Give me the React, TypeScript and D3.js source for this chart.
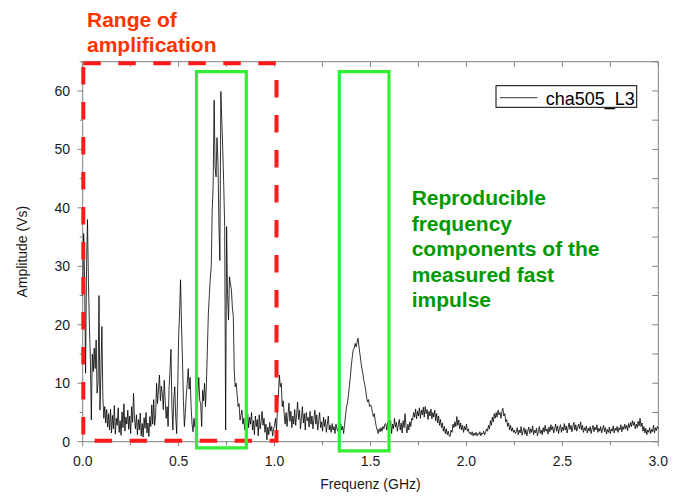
import React from "react";
import * as d3 from "d3";

// ---- data ----
const freqStep = 0.005; // GHz between samples, starting at 0
const amplitude: number[] = [
  25, 35.6, 27.6, 11.7, 30, 38, 27, 20, 14, 3.7,
  15, 12, 16, 12.5, 17.4, 8.3, 10, 25, 5.4, 12,
  19.7, 7.7, 4, 6, 3.2, 5.5, 2.5, 4.8, 2, 5.6,
  1.5, 4.5, 2.2, 6.2, 1.3, 4, 2.8, 5.8, 1.6, 3.6,
  1.1, 5.1, 2.4, 6.5, 1.8, 4.2, 3, 5.4, 2.1, 4.4,
  1.4, 6, 3.3, 8.3, 4, 2.2, 4.6, 1.2, 3.8, 2,
  4.9, 1, 3.1, 0.8, 4.1, 2.3, 5, 1.5, 3.2, 0.9,
  4.3, 2.6, 6.3, 3, 7.2, 2.8, 4.5, 10, 6.5, 9,
  11.4, 7, 9.5, 8.3, 5.5, 10.5, 7, 4, 6, 2.6,
  9, 12, 15.8, 6, 2, 7.5, 9.4, 4, 1.4, 9,
  18, 22, 27.7, 20, 14, 7, 2.6, 5, 8, 10,
  12.5, 9, 11, 6, 3, 1.7, 4, 2.5, 6, 3.5,
  8, 11, 7, 6.5, 2.6, 8.8, 7, 10, 6, 10,
  16, 22, 25, 28, 30, 39.6, 44, 58.4, 47, 45.3,
  52, 48, 37, 31, 59.9, 55, 50, 44, 36.8, 2,
  36.8, 25, 20.8, 28.2, 27, 26, 23, 21.4, 12, 9.4,
  10, 8, 6, 6.5, 3.7, 4.5, 5.4, 3, 4, 2,
  3.5, 1.5, 4.8, 2.4, 4.2, 3, 5, 2, 3.6, 1.2,
  4.4, 2.6, 3.8, 1, 4.6, 2.2, 3.4, 5.2, 2.8, 4,
  1.6, 3, 0.3, 2.5, 1.2, 3.3, 1.8, 2.6, 1, 2.2,
  2.8, 4, 2, 5.5, 8, 11.4, 9.4, 10, 6, 7,
  4.8, 3, 5, 2.6, 4.5, 6.6, 3.5, 5.2, 2.4, 4.4,
  3, 5.5, 2.8, 4.6, 6.8, 3.8, 5.4, 2.2, 4, 6,
  3.2, 4.8, 2, 5, 3.6, 4.2, 2.5, 5.2, 3, 4.4,
  2.2, 3.8, 5.4, 3, 4.6, 2, 3.6, 5, 2.4, 3.4,
  1.8, 4.2, 2.6, 3.8, 1.6, 3, 4.4, 2, 2.8, 1.6,
  3.1, 2, 2.6, 1.4, 3, 2.2, 1.8, 2.9, 1.5, 3.1,
  2, 2.6, 1.4, 3, 4.5, 6, 6.6, 8, 9.5, 11.1,
  13, 14.5, 15.7, 16, 16.8, 16.2, 17, 17.7, 16.2, 15,
  13.7, 12.5, 11.7, 10.5, 9.8, 8.8, 7.5, 6.8, 7.2, 6,
  6.3, 6, 5, 4.3, 4.8, 3.5, 2.6, 2, 1.4, 2.2,
  1.7, 2.4, 1.8, 2.6, 2.2, 3, 3.1, 2, 3.4, 1.6,
  2.8, 3.6, 1.4, 3, 2.2, 4, 2.5, 3.3, 1.8, 2.9,
  3.8, 2, 3.2, 1.5, 3.6, 2.4, 4.8, 2.6, 1.5, 3,
  2, 3.4, 2.6, 4, 3.7, 5, 4.2, 5.6, 3.9, 5.2,
  4.4, 5.8, 4, 5.4, 4.6, 5.9, 4.2, 6, 4.8, 5.5,
  3.8, 5.2, 4.4, 5.6, 3.9, 5, 4.2, 5.4, 3.6, 4.8,
  3.2, 4.4, 2.8, 3.8, 2.4, 3.2, 1.8, 2.6, 1.4, 2.2,
  1.2, 1.8, 1, 0.9, 2, 1.6, 3, 2.4, 3.4, 2.6,
  4.3, 2.8, 3.7, 2.2, 3.2, 2, 2.8, 1.6, 2.6, 2,
  3, 1.8, 2.2, 1.4, 1.6, 1.2, 1.7, 1, 1.5, 1.1,
  1.6, 1, 1.4, 1.2, 1.7, 1, 1.5, 1.3, 1.8, 1.2,
  1.6, 2.2, 1.8, 2.8, 2.2, 3.6, 2.8, 4.2, 3.4, 4.8,
  4, 5, 4.2, 5.4, 4.6, 5, 4, 5.2, 5.7, 4.4,
  4.8, 3.4, 3.8, 2.6, 3.2, 2, 2.8, 1.8, 2.4, 1.6,
  2, 1.4, 1.7, 2.4, 1.2, 2, 1.5, 2.6, 1.1, 1.8,
  2.4, 1.3, 2.1, 1, 1.9, 2.5, 1.4, 2.2, 1.6, 2.7,
  1.2, 2, 1.5, 2.3, 1, 1.8, 2.6, 1.4, 2, 1.2,
  2.4, 1.6, 2.8, 1.8, 2.2, 1.3, 2.5, 1.7, 2.9, 2,
  2.6, 1.5, 2.2, 3, 1.8, 2.7, 1.4, 2.3, 2.9, 1.6,
  2.5, 1.9, 3.1, 2, 2.7, 1.5, 2.4, 3.2, 2.1, 2.8,
  1.7, 2.6, 3.3, 2, 2.9, 1.8, 2.5, 3, 2.2, 3.4,
  2, 2.8, 1.6, 2.4, 1.9, 2.7, 1.5, 2.3, 1.8, 2.6,
  1.4, 2.2, 2.8, 1.7, 2.5, 2, 2.9, 1.6, 2.3, 1.8,
  2.6, 1.5, 2.2, 2.8, 1.7, 2.4, 1.3, 2.1, 1.6, 2.5,
  1.4, 2.2, 1.8, 2.7, 1.5, 2.3, 1.9, 2.6, 1.6, 2.4,
  2, 2.9, 1.7, 2.6, 2.1, 3, 2.2, 2.8, 1.9, 3.1,
  2.4, 3.3, 2.6, 3.6, 2.8, 3.4, 2.2, 3, 2.4, 3.5,
  2.7, 4, 2.6, 3.2, 1.8, 2.6, 1.5, 2.3, 1.2, 2,
  1.6, 2.4, 1.4, 2.1, 1.7, 2.8, 1.5, 2.4, 1.9, 2.6,
  2.2,
];

const xDomain = [0, 3];
const yDomain = [0, 65];
const xMajorTicks = [0, 0.5, 1, 1.5, 2, 2.5, 3];
const xTickLabels = ["0.0", "0.5", "1.0", "1.5", "2.0", "2.5", "3.0"];
const yMajorTicks = [0, 10, 20, 30, 40, 50, 60];
const yTickLabels = ["0", "10", "20", "30", "40", "50", "60"];
const seriesName = "cha505_L3";
const xTitle = "Frequenz (GHz)";
const yTitle = "Amplitude (Vs)";

// annotation boxes in data units: [x0, x1, y0, y1]
const rangeBox = [0.0031, 1.01, 0.17, 64.73];
const greenBox1 = [0.5931, 0.8527, -1.04, 63.29];
const greenBox2 = [1.3374, 1.5964, -1.56, 63.29];
const rangeText = ["Range of", "amplification"];
const componentText = ["Reproducible", "frequency", "components of the", "measured fast", "impulse"];

const FONT = "'Liberation Sans', Arial, Helvetica, sans-serif";

export default function App() {
  const W = 683, H = 497;
  const left = 82.7, right = 658.3, top = 61.7, bottom = 441.7;
  const x = d3.scaleLinear().domain(xDomain).range([left, right]);
  const y = d3.scaleLinear().domain(yDomain).range([bottom, top]);

  const pts: [number, number][] = amplitude.map((v, i) => [i * freqStep, v]);
  const line = d3.line<[number, number]>().x((d) => x(d[0])).y((d) => y(d[1]));

  const xMinor = d3.range(0, 3.0001, 0.25);
  const yMinor = d3.range(0, 65.0001, 5);
  const axisColor = "#808080";

  const boxPath = (b: number[]) =>
    `M${x(b[0])},${y(b[3])}H${x(b[1])}V${y(b[2])}H${x(b[0])}Z`;

  return (
    <svg width={W} height={H} style={{ position: "absolute", left: 0, top: 0, background: "#fff" }} fontFamily={FONT}>
      <rect x={0} y={0} width={W} height={H} fill="#fff" />
      {/* frame */}
      <g stroke={axisColor} strokeWidth={1} fill="none">
        <line x1={left} x2={right} y1={bottom} y2={bottom} />
        <line x1={left} x2={right} y1={top} y2={top} />
        <line x1={left} x2={left} y1={top} y2={bottom} />
        <line x1={right} x2={right} y1={top} y2={bottom} />
        {xMinor.map((t) => {
          const major = Math.abs(t * 2 - Math.round(t * 2)) < 1e-6;
          return (
            <g key={"xt" + t}>
              <line x1={x(t)} x2={x(t)} y1={bottom} y2={bottom + (major ? 4.5 : 3.5)} />
              <line x1={x(t)} x2={x(t)} y1={top} y2={top + 5} />
            </g>
          );
        })}
        {yMinor.map((t) => {
          const major = t % 10 === 0;
          return (
            <g key={"yt" + t}>
              <line x1={left} x2={left - (major ? 5 : 3)} y1={y(t)} y2={y(t)} />
              <line x1={right} x2={right - 6} y1={y(t)} y2={y(t)} />
            </g>
          );
        })}
      </g>
      {/* tick labels */}
      <g fontSize={14} fill="#1a1a1a">
        {xMajorTicks.map((t, i) => (
          <text key={"xl" + t} x={x(t)} y={465.7} textAnchor="middle">{xTickLabels[i]}</text>
        ))}
        {yMajorTicks.map((t, i) => (
          <text key={"yl" + t} x={70} y={y(t)} textAnchor="end" dominantBaseline="central">{yTickLabels[i]}</text>
        ))}
      </g>
      <text x={(left + right) / 2} y={489} textAnchor="middle" fontSize={14} fill="#1a1a1a">{xTitle}</text>
      <text transform={`translate(27,${(top + bottom) / 2}) rotate(-90)`} textAnchor="middle" fontSize={14} fill="#1a1a1a">{yTitle}</text>

      {/* data */}
      <path d={line(pts) || ""} fill="none" stroke="#000" strokeWidth={0.8} strokeLinejoin="round" />

      {/* annotations */}
      <path d={boxPath(rangeBox)} fill="none" stroke="#ff1a1a" strokeWidth={4} strokeDasharray="17.5 17.5" />
      <path d={boxPath(greenBox1)} fill="none" stroke="#33ee33" strokeWidth={3.2} />
      <path d={boxPath(greenBox2)} fill="none" stroke="#33ee33" strokeWidth={3.2} />

      <g fontSize={21} fontWeight="bold" fill="#ff3300">
        {rangeText.map((t, i) => (
          <text key={t} x={87} y={26.7 + i * 25}>{t}</text>
        ))}
      </g>
      <g fontSize={21} fontWeight="bold" fill="#009900">
        {componentText.map((t, i) => (
          <text key={t} x={411.7} y={205 + i * 25.5}>{t}</text>
        ))}
      </g>

      {/* legend */}
      <rect x={496} y={85.7} width={140.7} height={21.6} fill="#fff" stroke="#000" strokeWidth={1} />
      <line x1={500} x2={537.3} y1={97.7} y2={97.7} stroke="#000" strokeWidth={0.8} />
      <text x={545.7} y={104.5} fontSize={18} fill="#000">{seriesName}</text>
    </svg>
  );
}
